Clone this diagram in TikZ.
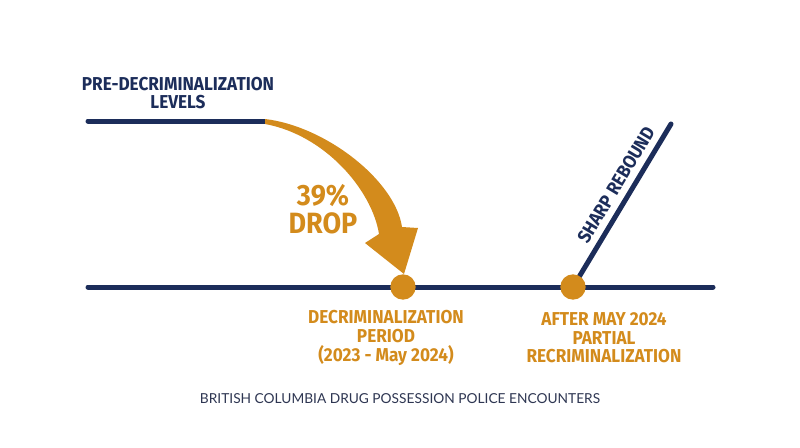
\documentclass[tikz,border=0pt]{standalone}
\usepackage{fontspec}
\setmainfont{Lato}
\newfontfamily\headfont{Fira Sans}[FakeStretch=0.92]
\usetikzlibrary{positioning}

\definecolor{navy}{HTML}{1C2D5A}
\definecolor{gold}{HTML}{D38B1C}
\definecolor{capgray}{HTML}{2E3652}

\tikzset{every picture/.style={line width=0.75pt}}
\tikzset{
  navyline/.style={draw=navy, line width=3.75pt, line cap=round},
  stagedot/.style={circle, fill=gold, inner sep=0pt, minimum size=19pt},
  headlabel/.style={font=\headfont\bfseries\fontsize{14}{14}\selectfont, align=center, inner sep=0pt},
}

\begin{document}
\begin{tikzpicture}[x=0.75pt,y=0.75pt,yscale=-1,xscale=1]
    \useasboundingbox (0,0) rectangle (800,447);

    % end points of the lines
    \coordinate (preStart) at (88,121);
    \coordinate (preEnd) at (265,121);
    \coordinate (baseStart) at (88,287);
    \coordinate (baseEnd) at (713,287);
    \coordinate (decrimPt) at (403,287);
    \coordinate (recrimPt) at (573,287);
    \coordinate (reboundTop) at (671,124);

    %Straight Lines
    \draw [navyline] (preStart) -- (preEnd) ;
    \draw [navyline] (baseStart) -- (baseEnd) ;
    %Straight Lines
    \draw [navyline] (recrimPt) -- (reboundTop) ;

    %Shape: Curved Arrow
    \fill [gold] (265,119) .. controls (325,126) and (395,180) .. (402,227) -- (418,228) -- (404,274) -- (365,243) -- (379,234) .. controls (372,190) and (325,135) .. (265,124) -- cycle ;

    %Shape: Circle
    \node [stagedot] (decrimDot) at (decrimPt) {};
    \node [stagedot] (recrimDot) at (recrimPt) {};

    \node [headlabel, text=navy] (preLabel) at (178,93) {PRE-DECRIMINALIZATION\\LEVELS};
    \node [headlabel, text=navy, rotate=59] (reboundLabel) at (616,185) {SHARP REBOUND};
    \node [headlabel, text=gold, font=\headfont\bfseries\fontsize{22}{21}\selectfont] (dropLabel) at (323,209) {39\%\\DROP};
    \node [headlabel, text=gold] (decrimLabel) at (386,338) {DECRIMINALIZATION\\PERIOD\\(2023 - May 2024)};
    \node [headlabel, text=gold] (recrimLabel) at (604,338) {AFTER MAY 2024\\PARTIAL\\RECRIMINALIZATION};
    \node [text=capgray, font=\fontsize{10.3}{12}\selectfont, inner sep=0pt] (caption) at (400,399) {BRITISH COLUMBIA DRUG POSSESSION POLICE ENCOUNTERS};

\end{tikzpicture}
\end{document}
